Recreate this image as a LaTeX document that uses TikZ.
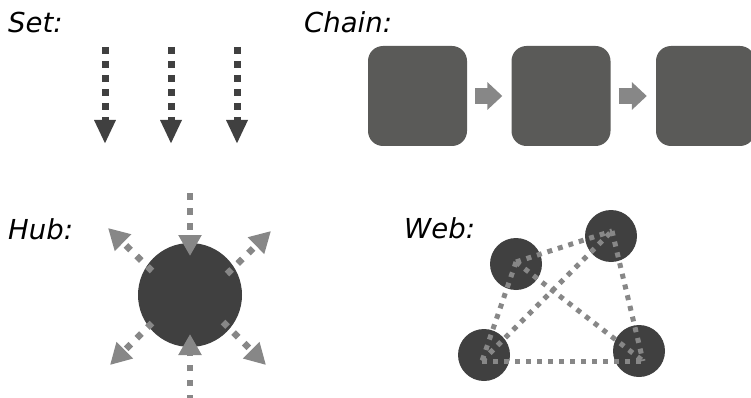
\documentclass[tikz,border=0pt]{standalone}
\usepackage{fontspec}
\setmainfont{DejaVu Sans}
\usetikzlibrary{arrows.meta}
\definecolor{darkfill}{HTML}{404040}
\definecolor{boxfill}{HTML}{5A5A58}
\definecolor{lightgray}{HTML}{878787}
\tikzset{
  lab/.style={anchor=base west,inner sep=0pt,font=\fontsize{27.5}{30}\selectfont\itshape,text=black},
  setarrow/.style={draw=darkfill,line width=7pt,dash pattern=on 7pt off 7pt,
    -{Triangle[length=24pt,width=20pt]}},
  chainbox/.style={fill=boxfill,rounded corners=15pt,minimum width=99pt,minimum height=100pt,inner sep=0pt},
  chainarrow/.style={draw=lightgray,line width=16pt,-{Triangle[length=15pt,width=27pt]},
    shorten <=8pt,shorten >=9pt},
  hubarrow/.style={draw=lightgray,line width=6.5pt,dash pattern=on 6.5pt off 8.5pt,
    -{Triangle[length=21pt,width=22pt]}},
  webnode/.style={circle,fill=darkfill,minimum size=52pt,inner sep=0pt},
  webline/.style={draw=lightgray,line width=5pt,dash pattern=on 5pt off 6pt},
}
\begin{document}
\begin{tikzpicture}[x=1pt,y=-1pt]
\useasboundingbox (0,0) rectangle (751,398);
\clip (0,0) rectangle (751,398);
% labels
\node[lab] (tset) at (8,33) {Set:};
\node[lab] (tchain) at (304,33) {Chain:};
\node[lab] (thub) at (8,239) {Hub:};
\node[lab] (tweb) at (404,238) {Web:};
% Set
\foreach \i/\x in {1/105,2/171,3/237}{
  \coordinate (s\i) at (\x,47);
  \coordinate (e\i) at (\x,144);
  \draw[setarrow] (s\i) -- (e\i);
}
% Chain
\node[chainbox] (b1) at (417.5,96) {};
\node[chainbox] (b2) at (561,96) {};
\node[chainbox] (b3) at (705.5,96) {};
\draw[chainarrow] (b1.east) -- (b2.west);
\draw[chainarrow] (b2.east) -- (b3.west);
% Hub
\node[circle,fill=darkfill,minimum size=104pt,inner sep=0pt] (hub) at (190,295) {};
\coordinate (ht0) at (190,193);
\coordinate (ht1) at (190,256);
\coordinate (hb0) at (190,401);
\coordinate (hb1) at (190,334);
\coordinate (ul0) at (152,271);
\coordinate (ul1) at (108,228);
\coordinate (ur0) at (227,274);
\coordinate (ur1) at (271,231);
\coordinate (ll0) at (152,323);
\coordinate (ll1) at (110,365);
\coordinate (lr0) at (223,322);
\coordinate (lr1) at (266,365);
\foreach \p in {ht,hb,ul,ur,ll,lr}{
  \draw[hubarrow] (\p0) -- (\p1);
}
% Web
\node[webnode] (A) at (516,264) {};
\node[webnode] (B) at (611,236) {};
\node[webnode] (C) at (484,355) {};
\node[webnode] (D) at (639,351) {};
\coordinate (pa) at (516,262);
\coordinate (pb) at (612,231);
\coordinate (pc) at (482,361);
\coordinate (pd) at (643,361);
\draw[webline] (pa) -- (pb);
\draw[webline] (pa) -- (pc);
\draw[webline] (pa) -- (pd);
\draw[webline] (pc) -- (pb);
\draw[webline] (pb) -- (pd);
\draw[webline] (pc) -- (pd);
\end{tikzpicture}
\end{document}
